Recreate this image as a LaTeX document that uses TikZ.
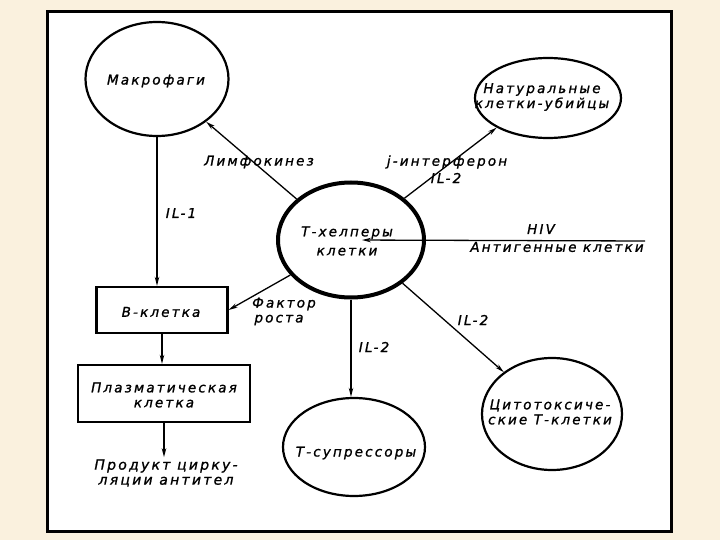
\documentclass[tikz,border=0pt]{standalone}
\usepackage{fontspec}
\setmainfont{DejaVu Sans}
\newfontfamily\lbl{DejaVu Sans Oblique}[LetterSpace=16,FakeBold=1.2]
\usetikzlibrary{shapes.geometric,arrows.meta}
\definecolor{bgc}{RGB}{250,241,222}
\begin{document}
\begin{tikzpicture}[x=1pt,y=-1pt,
  txt/.style={font=\lbl\fontsize{13.5}{15}\selectfont, align=center, inner sep=0pt},
  cell/.style={draw, ellipse, line width=2.2pt, inner sep=0pt},
  box/.style={draw, rectangle, line width=2.2pt, inner sep=0pt},
  arr/.style={-{Stealth[length=9pt,width=4.5pt]}, line width=1.3pt}]
\fill[bgc] (0,0) rectangle (720,540);
\draw[line width=3pt, fill=white] (47,12) rectangle (671,531);
\useasboundingbox (0,0) rectangle (720,540);
% nodes
\node[cell, minimum width=143pt, minimum height=114pt] (mac) at (157,79) {};
\node[txt] (tmac) at (156,81) {Макрофаги};
\node[cell, minimum width=146pt, minimum height=80pt] (nk) at (548,98) {};
\node[txt] (tnk) at (542,97) {Натуральные\\клетки-убийцы};
\node[cell, line width=4pt, minimum width=146pt, minimum height=115pt] (th) at (351,240) {};
\node[txt] (tth) at (347,241) {Т-хелперы\\[4pt]клетки};
\node[box, minimum width=131pt, minimum height=46pt] (bc) at (162,310) {};
\node[txt] (tbc) at (161,312) {В-клетка};
\node[box, minimum width=172pt, minimum height=57pt] (pc) at (164,393.5) {};
\node[txt] (tpc) at (164,395) {Плазматическая\\клетка};
\node[txt, font=\lbl\fontsize{14}{15}\selectfont] (prod) at (166,473) {Продукт цирку-\\ляции антител};
\node[cell, minimum width=142pt, minimum height=98pt] (sup) at (354,447) {};
\node[txt] (tsup) at (356,453) {Т-супрессоры};
\node[cell, minimum width=140pt, minimum height=112pt] (cy) at (552,414) {};
\node[txt] (tcy) at (550,412) {Цитотоксиче-\\ские Т-клетки};
\coordinate (hiv) at (645,241);
% connectors
\draw[arr] (mac.south) -- (mac.south |- bc.north);
\draw[arr] (th.143) -- (mac.-41);
\draw[arr] (th.38) -- (nk.210);
\draw[arr, shorten >=11pt] (hiv) -- (th.center);
\draw[arr] (th.210) -- (bc.east);
\draw[arr] (th.south) -- (th.south |- sup.north);
\draw[arr] (th.-40) -- (cy.139);
\draw[arr] (bc.south) -- (bc.south |- pc.north);
\draw[arr, shorten >=2pt] (pc.south) -- (pc.south |- prod.north);
% labels
\node[txt] (l1) at (181,213) {IL-1};
\node[txt] (l2) at (259,162) {Лимфокинез};
\node[txt] (l3) at (447,162) {j-интерферон};
\node[txt] (l4) at (446,178) {IL-2};
\node[txt] (l5) at (541,229) {HIV};
\node[txt] (l6) at (557,247) {Антигенные клетки};
\node[txt] (l7) at (284,304) {Фактор};
\node[txt] (l8) at (279,320) {роста};
\node[txt] (l9) at (374,347) {IL-2};
\node[txt] (l10) at (473,320) {IL-2};
\end{tikzpicture}
\end{document}
